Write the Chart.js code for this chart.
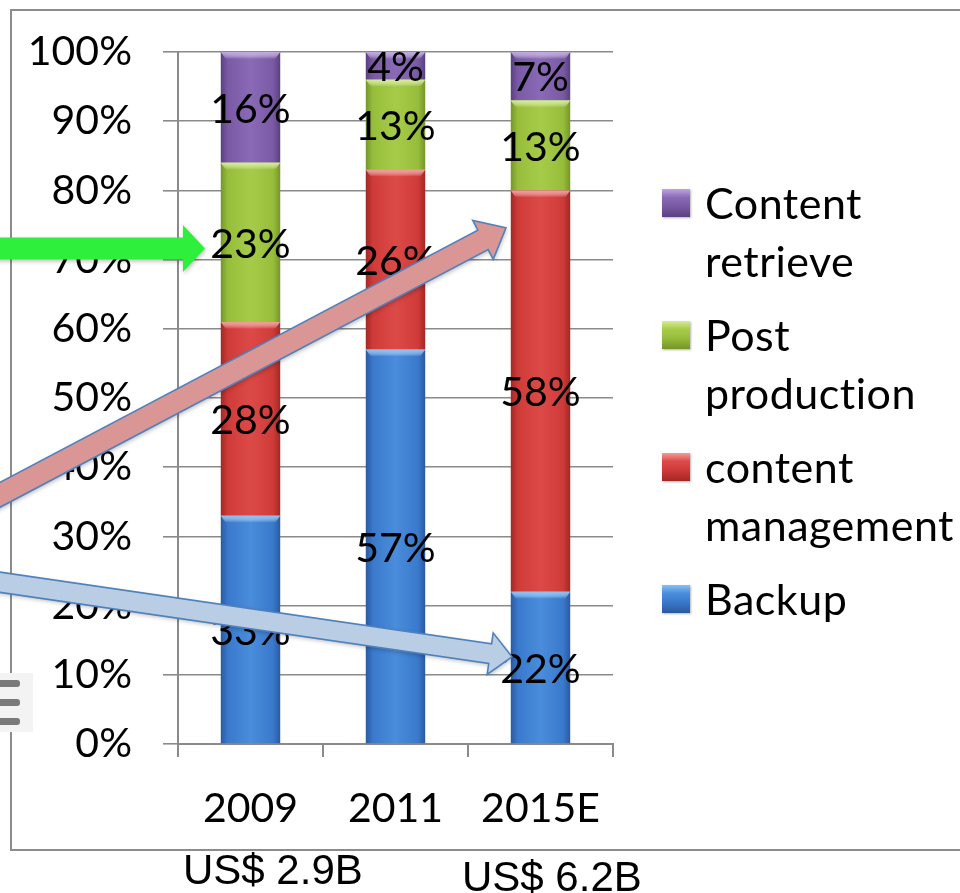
<!DOCTYPE html>
<html>
<head>
<meta charset="utf-8">
<script src="https://cdn.jsdelivr.net/npm/chart.js@4/dist/chart.umd.min.js"></script>
<style>
  html, body { margin: 0; padding: 0; background: #fff; }
  body { width: 960px; height: 893px; position: relative; overflow: hidden; }
  #frame { position: absolute; left: 10px; top: 9px; width: 1100px; height: 838px; border: 2px solid #8c8c8c; z-index: 0; }
  #wrap { position: absolute; left: 0; top: 0; width: 960px; height: 893px; z-index: 1; }
  #legend { position: absolute; left: 662px; top: 174px; z-index: 2; font-family: Lato, "Open Sans", sans-serif; font-size: 43px; letter-spacing: 0.5px; line-height: 58px; color: #000; white-space: nowrap; }
  .item { position: relative; padding-left: 43px; margin-bottom: 16px; }
  .box { position: absolute; left: 0; top: 15px; width: 28px; height: 28px; box-shadow: 1px 1px 2px rgba(0,0,0,0.3); }
  .foot { position: absolute; z-index: 2; font-family: "Liberation Sans", Arial, sans-serif; font-size: 42px; color: #000; white-space: nowrap; line-height: 1; }
  #icon { position: absolute; left: 0; top: 673px; width: 33px; height: 59px; background: #f3f3f3; z-index: 2; }
  #icon div { position: absolute; left: 0; width: 20px; height: 7px; background: #7a7a7a; border-radius: 0 3px 3px 0; }
</style>
</head>
<body>
<div id="frame"></div>
<div id="wrap"><canvas id="c" width="960" height="893"></canvas></div>
<div id="legend"></div>
<div class="foot" style="left:183px; top:849px;">US$ 2.9B</div>
<div class="foot" style="left:462px; top:856px;">US$ 6.2B</div>
<div id="icon"><div style="top:7px"></div><div style="top:26px"></div><div style="top:45px"></div></div>
<script>
// ---- data ----
const categories = ["2009", "2011", "2015E"];
const backup = [33, 57, 22];
const contentManagement = [28, 26, 58];
const postProduction = [23, 13, 13];
const contentRetrieve = [16, 4, 7];
const yTickValues = [0, 10, 20, 30, 40, 50, 60, 70, 80, 90, 100];

// annotation arrows, anchored in data units (category index, percent)
const arrowGreen = { from: [-1.9, 71.6], to: [-0.314, 71.6] };
const arrowPink  = { from: [-1.9, 34.1], to: [1.762, 74.6] };
const arrowBlue  = { from: [-1.9, 23.9], to: [1.803, 12.6] };

// ---- styles ----
const palette = {
  backup:  { edge: "#2a5aa0", base: "#3a79cc", light: "#4a8ddc", top: "#86c0f4" },
  cm:      { edge: "#a22825", base: "#cf3b38", light: "#dc4a48", top: "#f49a98" },
  post:    { edge: "#76952a", base: "#97be3b", light: "#a6cb48", top: "#d4ec90" },
  retr:    { edge: "#5a4080", base: "#7a5aa5", light: "#8a6ab6", top: "#bfa6e0" }
};
const BAR_PCT = 0.41;

function grad(p) {
  return function (ctx) {
    const chart = ctx.chart;
    const xs = chart.scales && chart.scales.x;
    if (!chart.chartArea || !xs || ctx.dataIndex === undefined) return p.base;
    const cx = xs.getPixelForValue(ctx.dataIndex);
    const bw = xs.width / categories.length * BAR_PCT;
    const g = chart.ctx.createLinearGradient(cx - bw / 2, 0, cx + bw / 2, 0);
    g.addColorStop(0, p.edge);
    g.addColorStop(0.12, p.base);
    g.addColorStop(0.5, p.light);
    g.addColorStop(0.88, p.base);
    g.addColorStop(1, p.edge);
    return g;
  };
}

const datasets = [
  { label: "Backup", data: backup, p: palette.backup },
  { label: "content management", legend: ["content", "management"], data: contentManagement, p: palette.cm },
  { label: "Post production", legend: ["Post", "production"], data: postProduction, p: palette.post },
  { label: "Content retrieve", legend: ["Content", "retrieve"], data: contentRetrieve, p: palette.retr }
].map(d => ({
  label: d.label,
  data: d.data,
  backgroundColor: grad(d.p),
  borderWidth: 0,
  categoryPercentage: 1,
  barPercentage: BAR_PCT,
  _p: d.p,
  _legend: d.legend || [d.label]
}));

// HTML legend (reverse order, as in reference)
const legendEl = document.getElementById("legend");
datasets.slice().reverse().forEach(ds => {
  const it = document.createElement("div");
  it.className = "item";
  const b = document.createElement("div");
  b.className = "box";
  b.style.background = `linear-gradient(180deg, ${ds._p.top} 0%, ${ds._p.light} 30%, ${ds._p.base} 60%, ${ds._p.edge} 100%)`;
  it.appendChild(b);
  it.appendChild(document.createTextNode(ds._legend[0]));
  ds._legend.slice(1).forEach(t => { it.appendChild(document.createElement("br")); it.appendChild(document.createTextNode(t)); });
  legendEl.appendChild(it);
});

const FONT = "Lato, 'Open Sans', sans-serif";

const bevelPlugin = {
  id: "bevel",
  afterDatasetsDraw(chart) {
    const ctx = chart.ctx;
    chart.data.datasets.forEach((ds, di) => {
      const meta = chart.getDatasetMeta(di);
      meta.data.forEach(bar => {
        const { x, y, width, base } = bar.getProps(["x", "y", "width", "base"], true);
        const h = Math.min(7, Math.abs(base - y));
        const g = ctx.createLinearGradient(0, y, 0, y + h);
        g.addColorStop(0, ds._p.top);
        g.addColorStop(1, "rgba(255,255,255,0)");
        ctx.save();
        ctx.fillStyle = g;
        ctx.beginPath();
        ctx.moveTo(x - width / 2, y);
        ctx.lineTo(x + width / 2, y);
        ctx.lineTo(x + width / 2 - 5, y + h);
        ctx.lineTo(x - width / 2 + 5, y + h);
        ctx.closePath();
        ctx.fill();
        ctx.restore();
      });
    });
  }
};

const labelPlugin = {
  id: "segLabels",
  afterDatasetsDraw(chart) {
    const ctx = chart.ctx;
    ctx.save();
    ctx.font = "41px " + FONT;
    ctx.fillStyle = "#000";
    ctx.textAlign = "center";
    ctx.textBaseline = "middle";
    chart.data.datasets.forEach((ds, di) => {
      const meta = chart.getDatasetMeta(di);
      meta.data.forEach((bar, i) => {
        const { x, y, base } = bar.getProps(["x", "y", "base"], true);
        ctx.fillText(ds.data[i] + "%", x, (y + base) / 2 + 2);
      });
    });
    ctx.restore();
  }
};

function drawArrow(ctx, x0, y0, x1, y1, body, headW, headL, fill, stroke) {
  const ang = Math.atan2(y1 - y0, x1 - x0);
  const len = Math.hypot(x1 - x0, y1 - y0);
  ctx.save();
  ctx.translate(x0, y0);
  ctx.rotate(ang);
  ctx.beginPath();
  ctx.moveTo(0, -body / 2);
  ctx.lineTo(len - headL, -body / 2);
  ctx.lineTo(len - headL, -headW / 2);
  ctx.lineTo(len, 0);
  ctx.lineTo(len - headL, headW / 2);
  ctx.lineTo(len - headL, body / 2);
  ctx.lineTo(0, body / 2);
  ctx.closePath();
  ctx.shadowColor = "rgba(0,0,0,0.25)";
  ctx.shadowBlur = 4;
  ctx.shadowOffsetX = 1;
  ctx.shadowOffsetY = 2;
  ctx.fillStyle = fill;
  ctx.fill();
  ctx.shadowColor = "transparent";
  if (stroke) {
    ctx.strokeStyle = stroke;
    ctx.lineWidth = 1.6;
    ctx.lineJoin = "miter";
    ctx.stroke();
  }
  ctx.restore();
}

const arrowPlugin = {
  id: "arrows",
  afterDraw(chart) {
    const xs = chart.scales.x, ys = chart.scales.y, ctx = chart.ctx;
    const P = pt => [xs.getPixelForValue(pt[0]), ys.getPixelForValue(pt[1])];
    const draw = (a, body, hw, hl, fill, stroke) => {
      const f = P(a.from), t = P(a.to);
      drawArrow(ctx, f[0], f[1], t[0], t[1], body, hw, hl, fill, stroke);
    };
    draw(arrowPink, 22, 44, 26, "#d99694", "#4f81bd");
    draw(arrowBlue, 20, 42, 22, "#b9cde5", "#4f81bd");
    draw(arrowGreen, 22, 47, 22, "#2ef03c", null);
  }
};

new Chart(document.getElementById("c"), {
  type: "bar",
  data: { labels: categories, datasets },
  options: {
    responsive: false,
    animation: false,
    layout: { padding: { left: 0, right: 347, top: 52, bottom: 49 } },
    plugins: { legend: { display: false }, tooltip: { enabled: false } },
    scales: {
      x: {
        stacked: true,
        grid: { drawOnChartArea: false, drawTicks: true, tickLength: 13, color: "#8a8a8a", lineWidth: 2, offset: true },
        border: { display: true, color: "#8a8a8a", width: 2 },
        ticks: { font: { family: FONT, size: 41 }, color: "#000", padding: 27, maxRotation: 0 },
        afterFit(s) { s.height = 100; s.paddingLeft = 0; s.paddingRight = 0; }
      },
      y: {
        stacked: true,
        min: 0,
        max: 100,
        afterBuildTicks(s) { s.ticks = yTickValues.map(v => ({ value: v })); },
        grid: { color: "#8a8a8a", lineWidth: 1.6, tickLength: 15, drawTicks: true },
        border: { display: true, color: "#8a8a8a", width: 2 },
        ticks: { font: { family: FONT, size: 41 }, color: "#000", padding: 31, callback: v => v + "%" },
        afterFit(s) { s.width = 178; s.paddingTop = 0; s.paddingBottom = 0; }
      }
    }
  },
  plugins: [bevelPlugin, labelPlugin, arrowPlugin]
});
</script>
</body>
</html>
